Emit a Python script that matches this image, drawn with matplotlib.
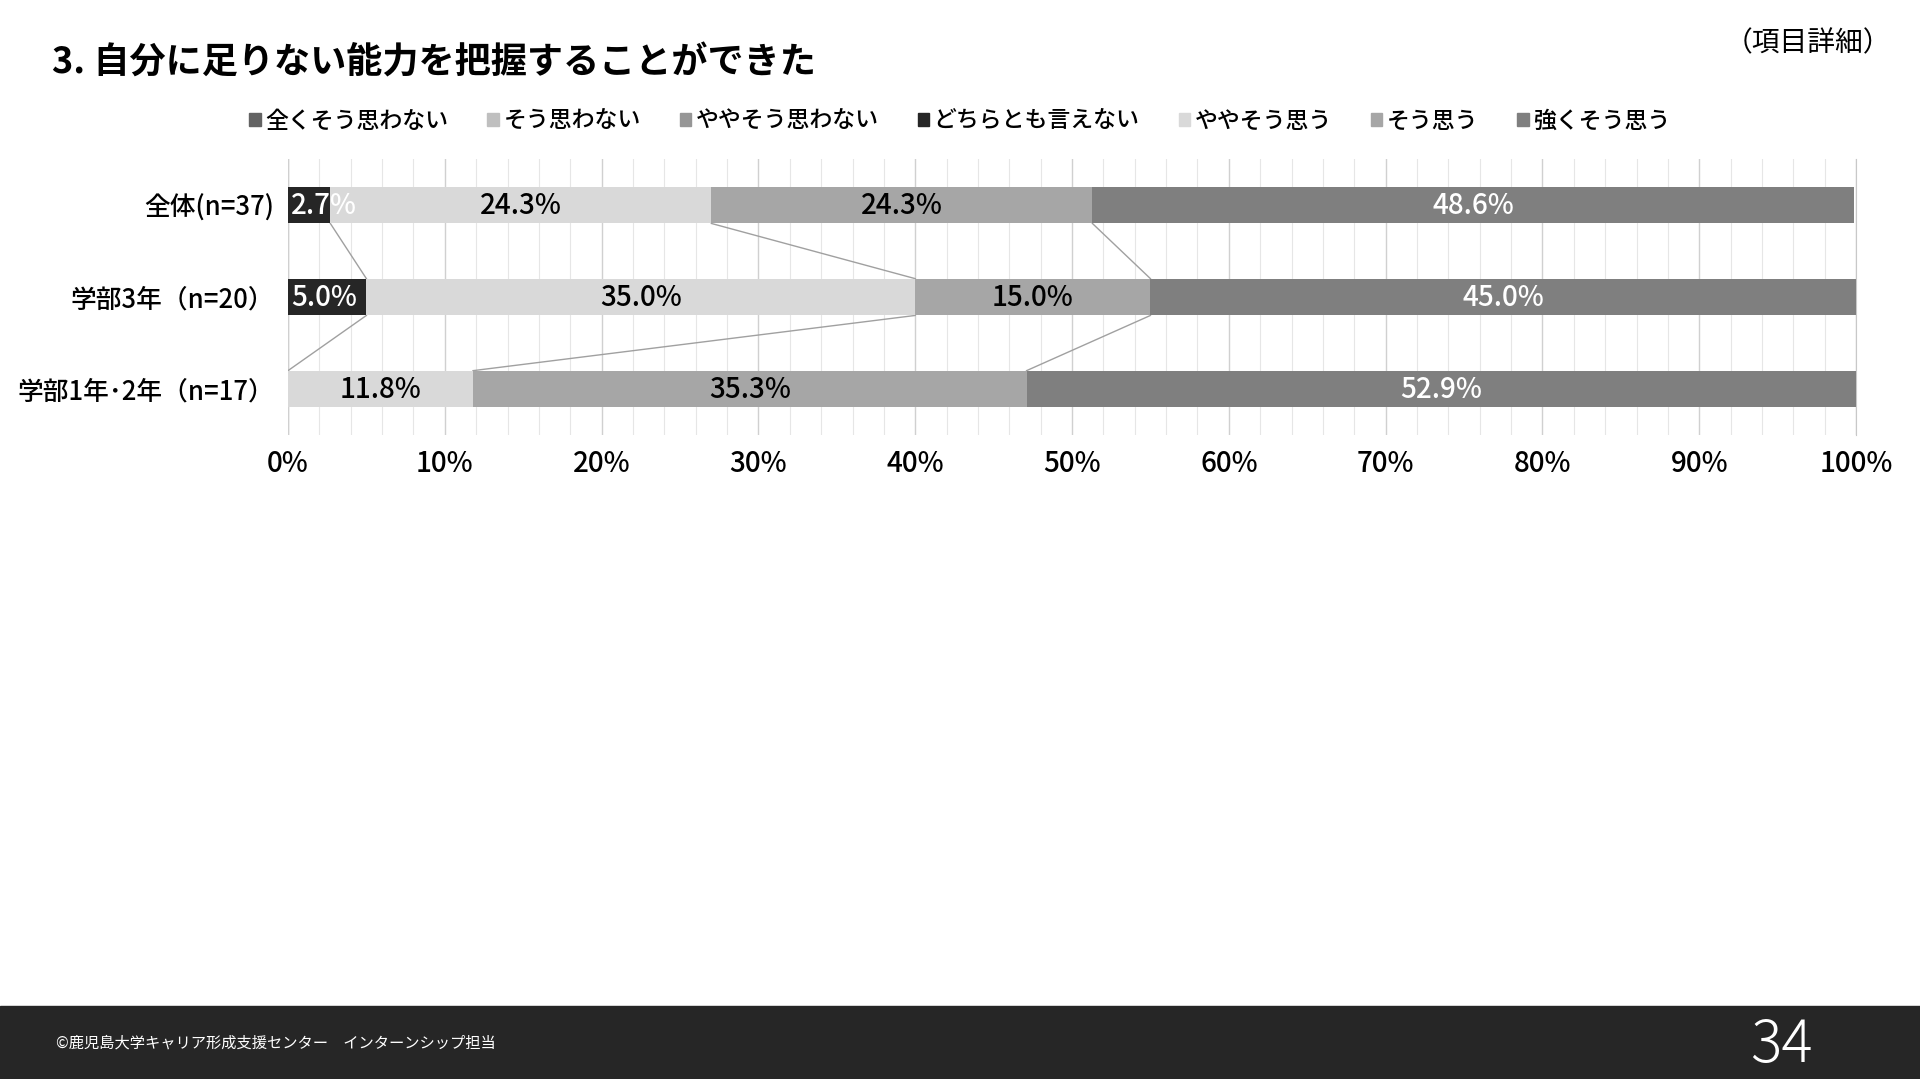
import matplotlib
matplotlib.use('Agg')
import matplotlib.pyplot as plt
import numpy as np
from matplotlib.patches import Rectangle
from matplotlib.ticker import MultipleLocator, FuncFormatter

plt.rcParams['font.family'] = ['Noto Sans CJK JP', 'DejaVu Sans']

title = '3. 自分に足りない能力を把握することができた'
groups = ['全体(n=37)', '学部3年（n=20）', '学部1年･2年（n=17）']
answers = ['全くそう思わない', 'そう思わない', 'ややそう思わない', 'どちらとも言えない',
           'ややそう思う', 'そう思う', '強くそう思う']
colors = ['#636363', '#bfbfbf', '#969696', '#262626', '#d9d9d9', '#a6a6a6', '#7f7f7f']
text_colors = ['white', 'black', 'black', 'white', 'black', 'black', 'white']

# percent per group, in answer order
values = np.array([
    [0.0, 0.0, 0.0, 2.7, 24.3, 24.3, 48.6],
    [0.0, 0.0, 0.0, 5.0, 35.0, 15.0, 45.0],
    [0.0, 0.0, 0.0, 0.0, 11.8, 35.3, 52.9],
])

fig = plt.figure(figsize=(19.2, 10.79), dpi=100)
ax = fig.add_axes([0.15, 0.5968, 0.8167, 0.2558])

ypos = np.arange(len(groups))
bar_h = 0.40
left = np.zeros(len(groups))
for j, name in enumerate(answers):
    ax.barh(ypos, values[:, j], left=left, height=bar_h, color=colors[j], zorder=3)
    for i in range(len(groups)):
        v = values[i, j]
        if v <= 0:
            continue
        if left[i] + v / 2 < 3:
            ax.text(left[i] + 0.2, ypos[i], '%.1f%%' % v, ha='left', va='center',
                    color=text_colors[j], fontsize=20, fontweight='medium', zorder=4)
        else:
            ax.text(left[i] + v / 2, ypos[i], '%.1f%%' % v, ha='center', va='center',
                    color=text_colors[j], fontsize=20, fontweight='medium', zorder=4)
    left = left + values[:, j]

# series lines between bars
cum = np.cumsum(values, axis=1)
for i in range(len(groups) - 1):
    for j in range(len(answers) - 1):
        if values[i, j] == 0 and values[i + 1, j] == 0:
            continue
        ax.plot([cum[i, j], cum[i + 1, j]], [ypos[i] + bar_h / 2, ypos[i + 1] - bar_h / 2],
                color='#a0a0a0', lw=1.0, zorder=2)

ax.set_xlim(0, 100)
ax.set_ylim(2.5, -0.5)
ax.set_yticks(ypos)
ax.set_yticklabels(groups, fontsize=18.5, fontweight='medium')
ax.xaxis.set_major_locator(MultipleLocator(10))
ax.xaxis.set_minor_locator(MultipleLocator(2))
ax.xaxis.set_major_formatter(FuncFormatter(lambda x, p: '%d%%' % x))
ax.tick_params(axis='x', labelsize=20, pad=10, length=0, which='both')
for lb in ax.get_xticklabels():
    lb.set_fontweight('medium')
ax.tick_params(axis='y', length=0, pad=10)
ax.grid(axis='x', which='major', color='#d0d0d0', lw=1.0, zorder=0)
ax.grid(axis='x', which='minor', color='#e6e6e6', lw=0.8, zorder=0)
for s in ['top', 'bottom', 'left']:
    ax.spines[s].set_visible(False)
ax.spines['right'].set_color('#c8c8c8')
ax.axvline(0, color='#d0d0d0', lw=1.0, zorder=1)

fig.text(0.027, 1 - 63 / 1079, title, fontsize=26, fontweight='bold', va='center', ha='left')
fig.text(0.985, 1 - 43 / 1079, '（項目詳細）', fontsize=20, va='center', ha='right')

handles = [Rectangle((0, 0), 1, 1, color=c) for c in colors]
fig.legend(handles, answers, loc='center', bbox_to_anchor=(0.5, 1 - 121 / 1079), ncol=7,
           frameon=False, handlelength=0.5, handleheight=0.5,
           handletextpad=0.2, columnspacing=1.7, prop={'size': 16.5, 'weight': 'medium'})

# footer band
fig.patches.append(Rectangle((0, 0), 1, 1 - 1006 / 1079, transform=fig.transFigure,
                             color='#262626', zorder=0))
fig.text(0.029, 1 - 1043 / 1079, '©鹿児島大学キャリア形成支援センター　インターンシップ担当',
         color='white', fontsize=11, va='center', ha='left')
fig.text(0.928, 1 - 1046 / 1079, '34', color='white', fontsize=42, va='center', ha='center',
         fontweight='light')

fig.savefig('out.png', dpi=100)
